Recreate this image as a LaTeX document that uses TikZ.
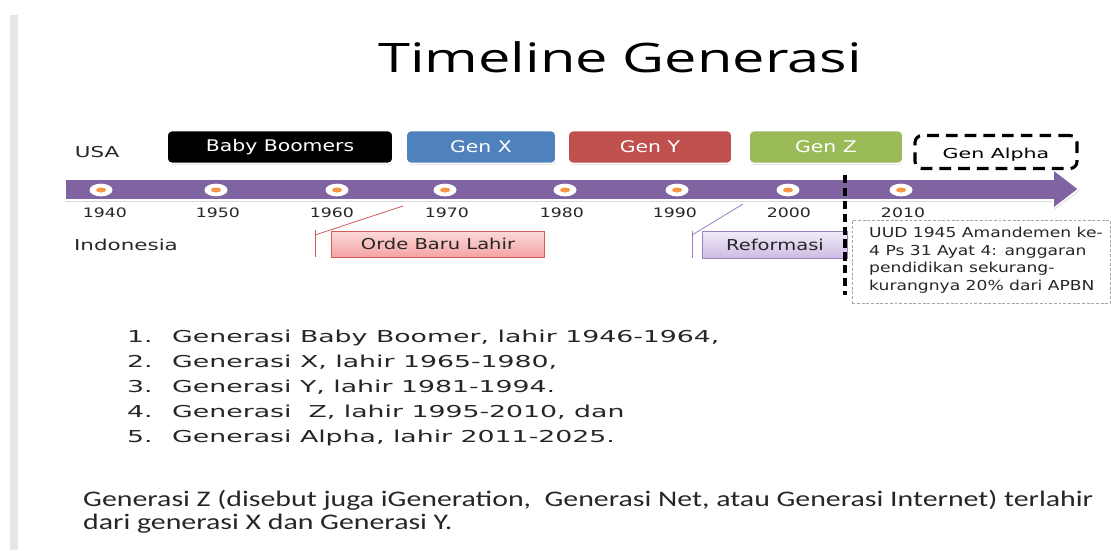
\documentclass[tikz,border=0pt]{standalone}
\usepackage{fontspec}
\setmainfont{DejaVu Sans}
\newfontfamily\titlefont[FakeStretch=1.42]{Open Sans}
\newfontfamily\genfont[FakeStretch=1.27]{DejaVu Sans}
\newfontfamily\alphafont[FakeStretch=1.5]{DejaVu Sans}
\newfontfamily\eventfont[FakeStretch=1.3]{DejaVu Sans}
\newfontfamily\yearfont[FakeStretch=1.33]{DejaVu Sans}
\newfontfamily\sidefont[FakeStretch=1.43]{DejaVu Sans}
\newfontfamily\notefont[FakeStretch=1.25]{DejaVu Sans}
\newfontfamily\listfont[FakeStretch=1.63]{DejaVu Sans}
\newfontfamily\parfont[FakeStretch=1.34]{Carlito}
\usetikzlibrary{positioning,shadows,shapes.geometric,calc}
\definecolor{sidegrey}{HTML}{E6E6E6}
\definecolor{lanepurple}{HTML}{8064A2}
\definecolor{dotorange}{HTML}{F79646}
\definecolor{genxblue}{HTML}{4F81BD}
\definecolor{genyred}{HTML}{C0504D}
\definecolor{genzgreen}{HTML}{9BBB59}
\definecolor{ordetop}{HTML}{FBDADA}
\definecolor{ordebot}{HTML}{F5A3A3}
\definecolor{ordeline}{HTML}{D05C5C}
\definecolor{reftop}{HTML}{F1EBF8}
\definecolor{refbot}{HTML}{CDBBE3}
\definecolor{refline}{HTML}{9B80C0}
\definecolor{inktext}{HTML}{262626}
\tikzset{
  genbox/.style={rectangle,rounded corners=4pt,draw=white,line width=1.5pt,text=white,font=\genfont\fontsize{13.7}{14}\selectfont,minimum height=0.99cm,inner sep=0pt,drop shadow={shadow xshift=0.4pt,shadow yshift=-1.2pt,opacity=0.3}},
  alphabox/.style={rectangle,rounded corners=6pt,draw=black,line width=2.6pt,dash pattern=on 10pt off 6pt,minimum width=4.86cm,minimum height=0.99cm,inner sep=0pt},
  alphatext/.style={font=\alphafont\fontsize{11.7}{12}\selectfont,inner sep=0pt},
  eventbox/.style={rectangle,draw,line width=0.8pt,font=\eventfont\fontsize{12.8}{13}\selectfont,text=inktext,inner sep=0pt,drop shadow={shadow xshift=0.6pt,shadow yshift=-0.8pt,opacity=0.25}},
  dot/.style={ellipse,fill=white,minimum width=0.69cm,minimum height=0.38cm,inner sep=0pt,path picture={\fill[dotorange] (path picture bounding box.center) ellipse (0.15cm and 0.075cm);}},
  yeartext/.style={font=\yearfont\fontsize{11.1}{12}\selectfont,text=inktext,inner sep=0pt},
  sidetext/.style={font=\sidefont\fontsize{12.8}{13}\selectfont,text=inktext,inner sep=0pt},
  listtext/.style={font=\listfont\fontsize{14}{15}\selectfont,text=inktext,inner sep=0pt,anchor=base west},
  partext/.style={font=\parfont\fontsize{19}{20}\selectfont,text=inktext,inner sep=0pt,anchor=base west},
  divider/.style={draw=black,line width=2.6pt,dash pattern=on 7pt off 4pt},
  notebox/.style={rectangle,draw=black!35,line width=0.6pt,dash pattern=on 2.5pt off 1.5pt,inner sep=0pt,anchor=north west}
}
\begin{document}
\begin{tikzpicture}[x=0.03cm,y=-0.03cm]
  \useasboundingbox (0,0) rectangle (1111,550);
  \fill[sidegrey] (10,15) rectangle (18,550);

  \node[font=\titlefont\fontsize{34.7}{36}\selectfont,inner sep=0pt] (title) at (620,57) {Timeline Generasi};

  % timeline arrow
  \path[fill=lanepurple,draw=white,line width=1.5pt,drop shadow={shadow xshift=0.5pt,shadow yshift=-1.5pt,opacity=0.3}]
    (65,179) -- (1053,179) -- (1053,169) -- (1079,189) -- (1053,209) -- (1053,200) -- (65,200) -- cycle;

  \foreach \dx/\lx/\yr in {101/105/1940,216/218/1950,337/332/1960,445/447/1970,565/562/1980,677/675/1990,788/789/2000,901/903/2010}{
    \node[dot] (d\yr) at (\dx,190) {};
    \node[yeartext] (y\yr) at (\lx,213) {\yr};
  }

  \node[sidetext] (usa) at (97,152) {USA};
  \node[sidetext] (indo) at (126,245) {Indonesia};

  % generations
  \node[genbox,fill=black,minimum width=6.78cm] (boom) at (280,147) {Baby Boomers};
  \node[genbox,fill=genxblue,minimum width=4.5cm] (genx) at (481,147) {Gen X};
  \node[genbox,fill=genyred,minimum width=4.92cm] (geny) at (650,147) {Gen Y};
  \node[genbox,fill=genzgreen,minimum width=4.62cm] (genz) at (826,147) {Gen Z};
  \node[alphabox] (alpha) at (996,152) {};
  \node[alphatext] (alphalabel) at ([yshift=-2.5pt]alpha.center) {Gen Alpha};

  % events
  \node[eventbox,draw=ordeline,top color=ordetop,bottom color=ordebot,minimum width=6.39cm,minimum height=0.78cm] (orde) at (438,244) {Orde Baru Lahir};
  \coordinate (ordeTip) at (403,206);
  \coordinate (ordeKnee) at (315,235);
  \coordinate (ordeTop) at (315,230);
  \coordinate (ordeBot) at (315,257);
  \draw[ordeline,line width=0.7pt] (ordeTip) -- (ordeKnee);
  \draw[ordeline,line width=0.7pt] (ordeTop) -- (ordeBot);

  \node[eventbox,draw=refline,top color=reftop,bottom color=refbot,minimum width=4.35cm,minimum height=0.81cm] (refo) at (775,245) {Reformasi};
  \coordinate (refTip) at (743,204);
  \coordinate (refKnee) at (692,235);
  \coordinate (refTop) at (692,231);
  \coordinate (refBot) at (692,258);
  \draw[refline,line width=0.7pt] (refTip) -- (refKnee);
  \draw[refline,line width=0.7pt] (refTop) -- (refBot);

  \coordinate (cutTop) at (845,175);
  \coordinate (cutBot) at (845,295);
  \draw[divider] (cutTop) -- (cutBot);

  \node[notebox,minimum width=7.74cm,minimum height=2.49cm] (uud) at (852,220) {};
  \node[font=\notefont\fontsize{11.7}{14.9}\selectfont,text=inktext,align=left,anchor=north west,inner sep=0pt] (uudtext) at (869,227)
    {UUD 1945 Amandemen ke-\\4 Ps 31 Ayat 4: anggaran\\pendidikan sekurang-\\kurangnya 20\% dari APBN};

  % list
  \foreach \yy/\txt [count=\i] in {342/{Generasi Baby Boomer, lahir 1946-1964,},367/{Generasi X, lahir 1965-1980,},392/{Generasi Y, lahir 1981-1994.},417/{Generasi~ Z, lahir 1995-2010, dan},442/{Generasi Alpha, lahir 2011-2025.}}{
    \node[listtext] (num\i) at (127,\yy) {\i.};
    \node[listtext] (item\i) at (172,\yy) {\txt};
  }

  \node[partext] (par1) at (83,506) {Generasi Z (disebut juga iGeneration,\ \ Generasi Net, atau Generasi Internet) terlahir};
  \node[partext] (par2) at (83,529) {dari generasi X dan Generasi Y.};
\end{tikzpicture}
\end{document}
